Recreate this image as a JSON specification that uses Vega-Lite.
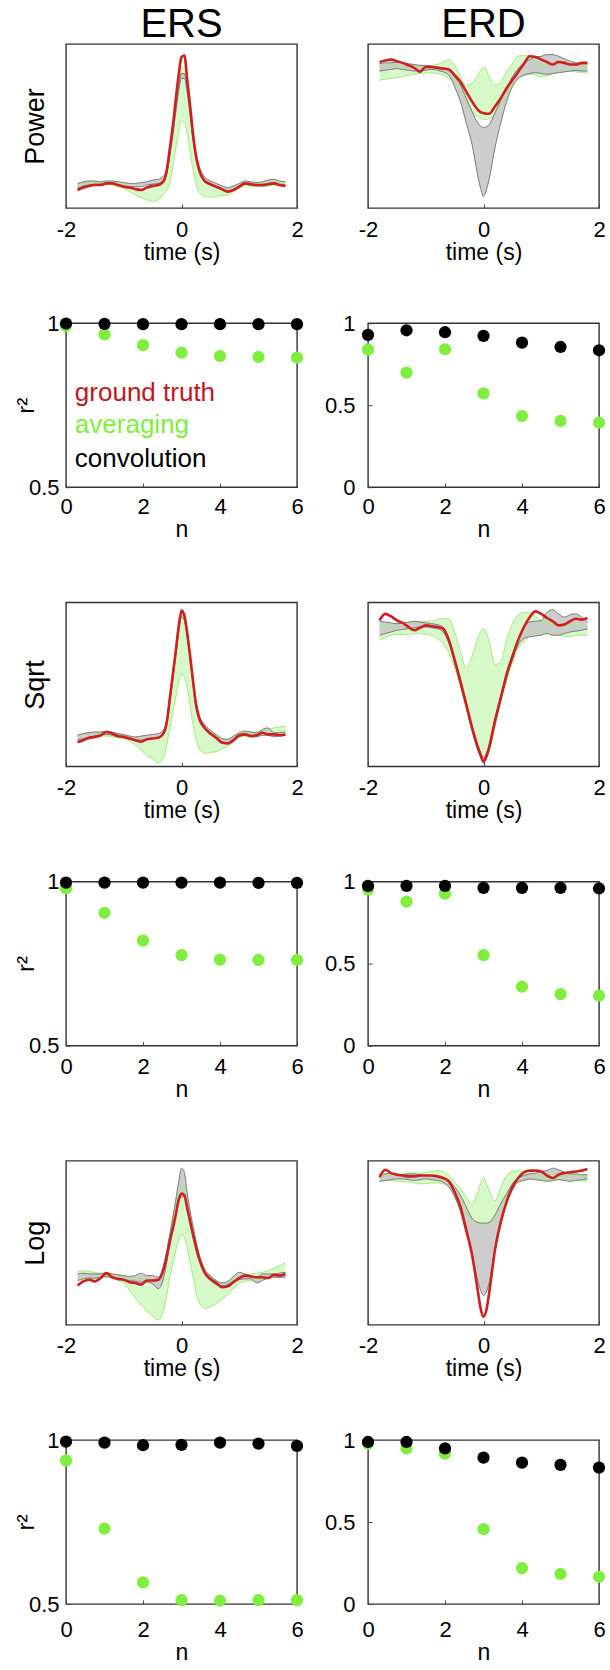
{
"$schema":"https://vega.github.io/schema/vega-lite/v6.json",
"background":"white",
"padding":{"left":13,"top":4,"right":2,"bottom":2},
"config":{
 "font":"Liberation Sans",
 "view":{"stroke":"#333333","strokeWidth":1.4},
 "title":{"font":"Liberation Sans","fontSize":40,"fontWeight":"normal","color":"#000000"},
 "axis":{"domain":false,"grid":false,"ticks":true,"tickSize":-4,"tickColor":"#444444","labelFont":"Liberation Sans","labelFontSize":22,"labelColor":"#000000","titleFont":"Liberation Sans","titleFontSize":23,"titleFontWeight":"normal","titleColor":"#000000","labelFlush":false,"labelOverlap":false},
 "line":{"interpolate":"monotone"},
 "area":{"interpolate":"monotone"}
},
"datasets":{
"ts":[
{"p":"PS","t":-1.8,"r":0.11,"cl":0.12,"ch":0.15,"al":0.12,"ah":0.14},
{"p":"PS","t":-1.7,"r":0.125,"cl":0.135,"ch":0.16,"al":0.13,"ah":0.15},
{"p":"PS","t":-1.6,"r":0.135,"cl":0.14,"ch":0.165,"al":0.135,"ah":0.155},
{"p":"PS","t":-1.5,"r":0.14,"cl":0.145,"ch":0.165,"al":0.14,"ah":0.155},
{"p":"PS","t":-1.4,"r":0.14,"cl":0.145,"ch":0.16,"al":0.14,"ah":0.155},
{"p":"PS","t":-1.3,"r":0.15,"cl":0.15,"ch":0.165,"al":0.145,"ah":0.16},
{"p":"PS","t":-1.2,"r":0.15,"cl":0.15,"ch":0.165,"al":0.14,"ah":0.16},
{"p":"PS","t":-1.1,"r":0.14,"cl":0.14,"ch":0.16,"al":0.13,"ah":0.15},
{"p":"PS","t":-1.0,"r":0.13,"cl":0.135,"ch":0.155,"al":0.12,"ah":0.14},
{"p":"PS","t":-0.9,"r":0.125,"cl":0.13,"ch":0.15,"al":0.1,"ah":0.13},
{"p":"PS","t":-0.8,"r":0.115,"cl":0.13,"ch":0.15,"al":0.08,"ah":0.12},
{"p":"PS","t":-0.7,"r":0.11,"cl":0.13,"ch":0.155,"al":0.065,"ah":0.115},
{"p":"PS","t":-0.6,"r":0.125,"cl":0.14,"ch":0.16,"al":0.05,"ah":0.12},
{"p":"PS","t":-0.5,"r":0.135,"cl":0.145,"ch":0.17,"al":0.04,"ah":0.125},
{"p":"PS","t":-0.4,"r":0.14,"cl":0.15,"ch":0.175,"al":0.05,"ah":0.135},
{"p":"PS","t":-0.3,"r":0.17,"cl":0.17,"ch":0.2,"al":0.09,"ah":0.16},
{"p":"PS","t":-0.25,"r":0.24,"cl":0.22,"ch":0.25,"al":0.11,"ah":0.22},
{"p":"PS","t":-0.2,"r":0.37,"cl":0.32,"ch":0.35,"al":0.16,"ah":0.33},
{"p":"PS","t":-0.15,"r":0.5,"cl":0.44,"ch":0.47,"al":0.25,"ah":0.46},
{"p":"PS","t":-0.1,"r":0.66,"cl":0.58,"ch":0.61,"al":0.36,"ah":0.6},
{"p":"PS","t":-0.05,"r":0.81,"cl":0.71,"ch":0.74,"al":0.46,"ah":0.75},
{"p":"PS","t":0,"r":0.92,"cl":0.79,"ch":0.82,"al":0.53,"ah":0.85},
{"p":"PS","t":0.05,"r":0.93,"cl":0.79,"ch":0.82,"al":0.52,"ah":0.86},
{"p":"PS","t":0.1,"r":0.78,"cl":0.7,"ch":0.73,"al":0.45,"ah":0.75},
{"p":"PS","t":0.15,"r":0.62,"cl":0.56,"ch":0.59,"al":0.34,"ah":0.58},
{"p":"PS","t":0.2,"r":0.45,"cl":0.41,"ch":0.44,"al":0.23,"ah":0.42},
{"p":"PS","t":0.25,"r":0.32,"cl":0.3,"ch":0.33,"al":0.15,"ah":0.3},
{"p":"PS","t":0.3,"r":0.24,"cl":0.23,"ch":0.26,"al":0.1,"ah":0.22},
{"p":"PS","t":0.4,"r":0.165,"cl":0.165,"ch":0.19,"al":0.07,"ah":0.16},
{"p":"PS","t":0.5,"r":0.145,"cl":0.14,"ch":0.165,"al":0.065,"ah":0.14},
{"p":"PS","t":0.6,"r":0.13,"cl":0.125,"ch":0.15,"al":0.07,"ah":0.125},
{"p":"PS","t":0.7,"r":0.115,"cl":0.11,"ch":0.135,"al":0.075,"ah":0.11},
{"p":"PS","t":0.8,"r":0.1,"cl":0.1,"ch":0.125,"al":0.08,"ah":0.1},
{"p":"PS","t":0.9,"r":0.11,"cl":0.115,"ch":0.135,"al":0.1,"ah":0.115},
{"p":"PS","t":1.0,"r":0.13,"cl":0.13,"ch":0.15,"al":0.12,"ah":0.135},
{"p":"PS","t":1.1,"r":0.15,"cl":0.145,"ch":0.165,"al":0.135,"ah":0.15},
{"p":"PS","t":1.2,"r":0.145,"cl":0.14,"ch":0.16,"al":0.135,"ah":0.15},
{"p":"PS","t":1.3,"r":0.14,"cl":0.135,"ch":0.155,"al":0.13,"ah":0.145},
{"p":"PS","t":1.4,"r":0.14,"cl":0.135,"ch":0.16,"al":0.13,"ah":0.15},
{"p":"PS","t":1.5,"r":0.145,"cl":0.145,"ch":0.17,"al":0.135,"ah":0.155},
{"p":"PS","t":1.6,"r":0.15,"cl":0.15,"ch":0.175,"al":0.14,"ah":0.16},
{"p":"PS","t":1.7,"r":0.14,"cl":0.14,"ch":0.165,"al":0.135,"ah":0.155},
{"p":"PS","t":1.8,"r":0.135,"cl":0.14,"ch":0.16,"al":0.13,"ah":0.15},

{"p":"PD","t":-1.8,"r":0.89,"cl":0.835,"ch":0.88,"al":0.78,"ah":0.87},
{"p":"PD","t":-1.7,"r":0.9,"cl":0.84,"ch":0.885,"al":0.785,"ah":0.865},
{"p":"PD","t":-1.6,"r":0.905,"cl":0.845,"ch":0.885,"al":0.79,"ah":0.87},
{"p":"PD","t":-1.5,"r":0.895,"cl":0.85,"ch":0.89,"al":0.795,"ah":0.875},
{"p":"PD","t":-1.4,"r":0.885,"cl":0.845,"ch":0.885,"al":0.8,"ah":0.87},
{"p":"PD","t":-1.3,"r":0.87,"cl":0.84,"ch":0.88,"al":0.81,"ah":0.865},
{"p":"PD","t":-1.2,"r":0.855,"cl":0.835,"ch":0.875,"al":0.815,"ah":0.86},
{"p":"PD","t":-1.1,"r":0.83,"cl":0.84,"ch":0.87,"al":0.82,"ah":0.86},
{"p":"PD","t":-1.0,"r":0.86,"cl":0.84,"ch":0.87,"al":0.823,"ah":0.865},
{"p":"PD","t":-0.9,"r":0.86,"cl":0.845,"ch":0.865,"al":0.823,"ah":0.87},
{"p":"PD","t":-0.8,"r":0.855,"cl":0.84,"ch":0.86,"al":0.82,"ah":0.875},
{"p":"PD","t":-0.7,"r":0.85,"cl":0.83,"ch":0.855,"al":0.81,"ah":0.89},
{"p":"PD","t":-0.6,"r":0.845,"cl":0.81,"ch":0.84,"al":0.79,"ah":0.905},
{"p":"PD","t":-0.5,"r":0.81,"cl":0.74,"ch":0.8,"al":0.76,"ah":0.87},
{"p":"PD","t":-0.4,"r":0.77,"cl":0.65,"ch":0.75,"al":0.71,"ah":0.8},
{"p":"PD","t":-0.3,"r":0.71,"cl":0.52,"ch":0.67,"al":0.65,"ah":0.75},
{"p":"PD","t":-0.2,"r":0.65,"cl":0.39,"ch":0.59,"al":0.59,"ah":0.76},
{"p":"PD","t":-0.1,"r":0.6,"cl":0.2,"ch":0.52,"al":0.555,"ah":0.81},
{"p":"PD","t":-0.05,"r":0.585,"cl":0.12,"ch":0.5,"al":0.545,"ah":0.84},
{"p":"PD","t":0,"r":0.58,"cl":0.07,"ch":0.49,"al":0.54,"ah":0.86},
{"p":"PD","t":0.05,"r":0.575,"cl":0.11,"ch":0.495,"al":0.54,"ah":0.84},
{"p":"PD","t":0.1,"r":0.575,"cl":0.18,"ch":0.51,"al":0.545,"ah":0.8},
{"p":"PD","t":0.2,"r":0.62,"cl":0.37,"ch":0.58,"al":0.57,"ah":0.75},
{"p":"PD","t":0.3,"r":0.67,"cl":0.52,"ch":0.66,"al":0.63,"ah":0.77},
{"p":"PD","t":0.4,"r":0.73,"cl":0.65,"ch":0.73,"al":0.69,"ah":0.83},
{"p":"PD","t":0.5,"r":0.78,"cl":0.74,"ch":0.8,"al":0.75,"ah":0.88},
{"p":"PD","t":0.6,"r":0.83,"cl":0.79,"ch":0.85,"al":0.79,"ah":0.925},
{"p":"PD","t":0.7,"r":0.88,"cl":0.81,"ch":0.885,"al":0.81,"ah":0.93},
{"p":"PD","t":0.8,"r":0.925,"cl":0.82,"ch":0.905,"al":0.815,"ah":0.925},
{"p":"PD","t":0.9,"r":0.92,"cl":0.825,"ch":0.92,"al":0.81,"ah":0.9},
{"p":"PD","t":1.0,"r":0.905,"cl":0.82,"ch":0.925,"al":0.8,"ah":0.875},
{"p":"PD","t":1.1,"r":0.89,"cl":0.815,"ch":0.935,"al":0.805,"ah":0.87},
{"p":"PD","t":1.2,"r":0.875,"cl":0.82,"ch":0.935,"al":0.82,"ah":0.875},
{"p":"PD","t":1.3,"r":0.89,"cl":0.825,"ch":0.925,"al":0.83,"ah":0.88},
{"p":"PD","t":1.4,"r":0.885,"cl":0.83,"ch":0.91,"al":0.84,"ah":0.885},
{"p":"PD","t":1.5,"r":0.875,"cl":0.835,"ch":0.895,"al":0.835,"ah":0.88},
{"p":"PD","t":1.6,"r":0.875,"cl":0.84,"ch":0.885,"al":0.83,"ah":0.875},
{"p":"PD","t":1.7,"r":0.885,"cl":0.835,"ch":0.88,"al":0.825,"ah":0.87},
{"p":"PD","t":1.8,"r":0.885,"cl":0.835,"ch":0.88,"al":0.82,"ah":0.865},

{"p":"SS","t":-1.8,"r":0.147,"cl":0.16,"ch":0.19,"al":0.16,"ah":0.19},
{"p":"SS","t":-1.7,"r":0.16,"cl":0.17,"ch":0.2,"al":0.17,"ah":0.2},
{"p":"SS","t":-1.6,"r":0.173,"cl":0.18,"ch":0.205,"al":0.175,"ah":0.205},
{"p":"SS","t":-1.5,"r":0.18,"cl":0.185,"ch":0.21,"al":0.18,"ah":0.205},
{"p":"SS","t":-1.4,"r":0.19,"cl":0.19,"ch":0.21,"al":0.185,"ah":0.205},
{"p":"SS","t":-1.3,"r":0.21,"cl":0.195,"ch":0.215,"al":0.185,"ah":0.21},
{"p":"SS","t":-1.2,"r":0.2,"cl":0.19,"ch":0.21,"al":0.18,"ah":0.205},
{"p":"SS","t":-1.1,"r":0.185,"cl":0.18,"ch":0.2,"al":0.175,"ah":0.195},
{"p":"SS","t":-1.0,"r":0.18,"cl":0.175,"ch":0.195,"al":0.17,"ah":0.19},
{"p":"SS","t":-0.9,"r":0.17,"cl":0.165,"ch":0.185,"al":0.155,"ah":0.18},
{"p":"SS","t":-0.8,"r":0.16,"cl":0.16,"ch":0.18,"al":0.13,"ah":0.17},
{"p":"SS","t":-0.7,"r":0.15,"cl":0.16,"ch":0.185,"al":0.1,"ah":0.165},
{"p":"SS","t":-0.6,"r":0.165,"cl":0.165,"ch":0.19,"al":0.07,"ah":0.17},
{"p":"SS","t":-0.5,"r":0.17,"cl":0.17,"ch":0.195,"al":0.045,"ah":0.175},
{"p":"SS","t":-0.4,"r":0.175,"cl":0.175,"ch":0.2,"al":0.02,"ah":0.18},
{"p":"SS","t":-0.3,"r":0.21,"cl":0.205,"ch":0.23,"al":0.06,"ah":0.21},
{"p":"SS","t":-0.25,"r":0.28,"cl":0.27,"ch":0.3,"al":0.14,"ah":0.27},
{"p":"SS","t":-0.2,"r":0.42,"cl":0.4,"ch":0.43,"al":0.235,"ah":0.4},
{"p":"SS","t":-0.15,"r":0.56,"cl":0.54,"ch":0.57,"al":0.33,"ah":0.53},
{"p":"SS","t":-0.1,"r":0.7,"cl":0.68,"ch":0.71,"al":0.42,"ah":0.67},
{"p":"SS","t":-0.05,"r":0.85,"cl":0.82,"ch":0.85,"al":0.51,"ah":0.81},
{"p":"SS","t":0,"r":0.95,"cl":0.91,"ch":0.94,"al":0.56,"ah":0.915},
{"p":"SS","t":0.05,"r":0.92,"cl":0.89,"ch":0.92,"al":0.54,"ah":0.89},
{"p":"SS","t":0.1,"r":0.81,"cl":0.79,"ch":0.82,"al":0.48,"ah":0.79},
{"p":"SS","t":0.15,"r":0.67,"cl":0.65,"ch":0.68,"al":0.37,"ah":0.65},
{"p":"SS","t":0.2,"r":0.52,"cl":0.5,"ch":0.53,"al":0.255,"ah":0.5},
{"p":"SS","t":0.25,"r":0.38,"cl":0.37,"ch":0.4,"al":0.17,"ah":0.37},
{"p":"SS","t":0.3,"r":0.3,"cl":0.29,"ch":0.32,"al":0.11,"ah":0.29},
{"p":"SS","t":0.4,"r":0.235,"cl":0.23,"ch":0.255,"al":0.08,"ah":0.235},
{"p":"SS","t":0.5,"r":0.2,"cl":0.195,"ch":0.22,"al":0.085,"ah":0.205},
{"p":"SS","t":0.6,"r":0.175,"cl":0.17,"ch":0.195,"al":0.09,"ah":0.185},
{"p":"SS","t":0.7,"r":0.145,"cl":0.145,"ch":0.17,"al":0.105,"ah":0.17},
{"p":"SS","t":0.8,"r":0.14,"cl":0.145,"ch":0.165,"al":0.12,"ah":0.165},
{"p":"SS","t":0.9,"r":0.16,"cl":0.16,"ch":0.185,"al":0.15,"ah":0.18},
{"p":"SS","t":1.0,"r":0.19,"cl":0.18,"ch":0.205,"al":0.18,"ah":0.2},
{"p":"SS","t":1.1,"r":0.195,"cl":0.19,"ch":0.215,"al":0.185,"ah":0.205},
{"p":"SS","t":1.2,"r":0.185,"cl":0.18,"ch":0.21,"al":0.185,"ah":0.205},
{"p":"SS","t":1.3,"r":0.19,"cl":0.18,"ch":0.205,"al":0.19,"ah":0.21},
{"p":"SS","t":1.4,"r":0.205,"cl":0.19,"ch":0.225,"al":0.19,"ah":0.215},
{"p":"SS","t":1.5,"r":0.195,"cl":0.19,"ch":0.235,"al":0.2,"ah":0.225},
{"p":"SS","t":1.6,"r":0.195,"cl":0.18,"ch":0.205,"al":0.205,"ah":0.235},
{"p":"SS","t":1.7,"r":0.19,"cl":0.185,"ch":0.205,"al":0.21,"ah":0.24},
{"p":"SS","t":1.8,"r":0.195,"cl":0.19,"ch":0.21,"al":0.22,"ah":0.245},

{"p":"SD","t":-1.8,"r":0.89,"cl":0.8,"ch":0.885,"al":0.77,"ah":0.86},
{"p":"SD","t":-1.7,"r":0.93,"cl":0.81,"ch":0.88,"al":0.785,"ah":0.865},
{"p":"SD","t":-1.6,"r":0.915,"cl":0.82,"ch":0.875,"al":0.8,"ah":0.865},
{"p":"SD","t":-1.5,"r":0.89,"cl":0.83,"ch":0.87,"al":0.805,"ah":0.87},
{"p":"SD","t":-1.4,"r":0.875,"cl":0.835,"ch":0.875,"al":0.805,"ah":0.875},
{"p":"SD","t":-1.3,"r":0.85,"cl":0.84,"ch":0.88,"al":0.805,"ah":0.875},
{"p":"SD","t":-1.2,"r":0.83,"cl":0.845,"ch":0.885,"al":0.81,"ah":0.88},
{"p":"SD","t":-1.1,"r":0.845,"cl":0.85,"ch":0.88,"al":0.81,"ah":0.88},
{"p":"SD","t":-1.0,"r":0.86,"cl":0.85,"ch":0.875,"al":0.805,"ah":0.885},
{"p":"SD","t":-0.9,"r":0.855,"cl":0.845,"ch":0.87,"al":0.8,"ah":0.885},
{"p":"SD","t":-0.8,"r":0.85,"cl":0.84,"ch":0.865,"al":0.78,"ah":0.895},
{"p":"SD","t":-0.7,"r":0.84,"cl":0.82,"ch":0.85,"al":0.75,"ah":0.9},
{"p":"SD","t":-0.6,"r":0.77,"cl":0.75,"ch":0.78,"al":0.69,"ah":0.9},
{"p":"SD","t":-0.5,"r":0.65,"cl":0.63,"ch":0.66,"al":0.6,"ah":0.82},
{"p":"SD","t":-0.4,"r":0.52,"cl":0.5,"ch":0.53,"al":0.48,"ah":0.7},
{"p":"SD","t":-0.3,"r":0.38,"cl":0.36,"ch":0.39,"al":0.36,"ah":0.6},
{"p":"SD","t":-0.2,"r":0.24,"cl":0.22,"ch":0.25,"al":0.22,"ah":0.67},
{"p":"SD","t":-0.1,"r":0.12,"cl":0.1,"ch":0.13,"al":0.1,"ah":0.78},
{"p":"SD","t":-0.05,"r":0.07,"cl":0.055,"ch":0.085,"al":0.06,"ah":0.82},
{"p":"SD","t":0,"r":0.03,"cl":0.02,"ch":0.05,"al":0.025,"ah":0.84},
{"p":"SD","t":0.05,"r":0.06,"cl":0.05,"ch":0.08,"al":0.055,"ah":0.815},
{"p":"SD","t":0.1,"r":0.12,"cl":0.1,"ch":0.13,"al":0.1,"ah":0.76},
{"p":"SD","t":0.2,"r":0.28,"cl":0.26,"ch":0.29,"al":0.24,"ah":0.62},
{"p":"SD","t":0.3,"r":0.42,"cl":0.4,"ch":0.43,"al":0.4,"ah":0.64},
{"p":"SD","t":0.4,"r":0.56,"cl":0.54,"ch":0.57,"al":0.52,"ah":0.77},
{"p":"SD","t":0.5,"r":0.67,"cl":0.65,"ch":0.68,"al":0.63,"ah":0.87},
{"p":"SD","t":0.6,"r":0.77,"cl":0.74,"ch":0.78,"al":0.72,"ah":0.925},
{"p":"SD","t":0.7,"r":0.85,"cl":0.78,"ch":0.85,"al":0.76,"ah":0.94},
{"p":"SD","t":0.8,"r":0.91,"cl":0.79,"ch":0.88,"al":0.79,"ah":0.935},
{"p":"SD","t":0.9,"r":0.945,"cl":0.795,"ch":0.885,"al":0.8,"ah":0.915},
{"p":"SD","t":1.0,"r":0.93,"cl":0.8,"ch":0.89,"al":0.81,"ah":0.89},
{"p":"SD","t":1.1,"r":0.905,"cl":0.81,"ch":0.94,"al":0.815,"ah":0.875},
{"p":"SD","t":1.2,"r":0.885,"cl":0.8,"ch":0.955,"al":0.82,"ah":0.87},
{"p":"SD","t":1.3,"r":0.86,"cl":0.8,"ch":0.93,"al":0.8,"ah":0.865},
{"p":"SD","t":1.4,"r":0.865,"cl":0.81,"ch":0.91,"al":0.795,"ah":0.86},
{"p":"SD","t":1.5,"r":0.885,"cl":0.82,"ch":0.925,"al":0.79,"ah":0.86},
{"p":"SD","t":1.6,"r":0.9,"cl":0.825,"ch":0.93,"al":0.8,"ah":0.86},
{"p":"SD","t":1.7,"r":0.895,"cl":0.83,"ch":0.91,"al":0.8,"ah":0.855},
{"p":"SD","t":1.8,"r":0.905,"cl":0.84,"ch":0.88,"al":0.8,"ah":0.83},

{"p":"LS","t":-1.8,"r":0.24,"cl":0.27,"ch":0.31,"al":0.28,"ah":0.325},
{"p":"LS","t":-1.7,"r":0.265,"cl":0.28,"ch":0.315,"al":0.285,"ah":0.33},
{"p":"LS","t":-1.6,"r":0.275,"cl":0.285,"ch":0.31,"al":0.285,"ah":0.325},
{"p":"LS","t":-1.5,"r":0.265,"cl":0.285,"ch":0.31,"al":0.28,"ah":0.32},
{"p":"LS","t":-1.4,"r":0.285,"cl":0.29,"ch":0.31,"al":0.285,"ah":0.315},
{"p":"LS","t":-1.3,"r":0.315,"cl":0.295,"ch":0.315,"al":0.29,"ah":0.32},
{"p":"LS","t":-1.2,"r":0.29,"cl":0.285,"ch":0.31,"al":0.285,"ah":0.31},
{"p":"LS","t":-1.1,"r":0.28,"cl":0.28,"ch":0.305,"al":0.27,"ah":0.3},
{"p":"LS","t":-1.0,"r":0.275,"cl":0.275,"ch":0.3,"al":0.255,"ah":0.295},
{"p":"LS","t":-0.9,"r":0.26,"cl":0.27,"ch":0.295,"al":0.21,"ah":0.29},
{"p":"LS","t":-0.8,"r":0.255,"cl":0.265,"ch":0.3,"al":0.165,"ah":0.285},
{"p":"LS","t":-0.7,"r":0.245,"cl":0.26,"ch":0.315,"al":0.12,"ah":0.28},
{"p":"LS","t":-0.6,"r":0.27,"cl":0.26,"ch":0.3,"al":0.085,"ah":0.28},
{"p":"LS","t":-0.5,"r":0.27,"cl":0.25,"ch":0.3,"al":0.05,"ah":0.27},
{"p":"LS","t":-0.4,"r":0.275,"cl":0.22,"ch":0.29,"al":0.03,"ah":0.28},
{"p":"LS","t":-0.3,"r":0.35,"cl":0.3,"ch":0.38,"al":0.1,"ah":0.36},
{"p":"LS","t":-0.2,"r":0.51,"cl":0.5,"ch":0.56,"al":0.29,"ah":0.53},
{"p":"LS","t":-0.1,"r":0.67,"cl":0.68,"ch":0.76,"al":0.45,"ah":0.72},
{"p":"LS","t":-0.05,"r":0.76,"cl":0.75,"ch":0.87,"al":0.51,"ah":0.8},
{"p":"LS","t":0,"r":0.8,"cl":0.78,"ch":0.955,"al":0.55,"ah":0.86},
{"p":"LS","t":0.05,"r":0.79,"cl":0.78,"ch":0.93,"al":0.53,"ah":0.84},
{"p":"LS","t":0.1,"r":0.71,"cl":0.7,"ch":0.8,"al":0.47,"ah":0.74},
{"p":"LS","t":0.2,"r":0.55,"cl":0.54,"ch":0.6,"al":0.29,"ah":0.56},
{"p":"LS","t":0.3,"r":0.41,"cl":0.4,"ch":0.44,"al":0.14,"ah":0.41},
{"p":"LS","t":0.4,"r":0.32,"cl":0.31,"ch":0.34,"al":0.1,"ah":0.33},
{"p":"LS","t":0.5,"r":0.28,"cl":0.27,"ch":0.3,"al":0.11,"ah":0.29},
{"p":"LS","t":0.6,"r":0.255,"cl":0.245,"ch":0.27,"al":0.13,"ah":0.27},
{"p":"LS","t":0.7,"r":0.23,"cl":0.235,"ch":0.255,"al":0.155,"ah":0.255},
{"p":"LS","t":0.8,"r":0.235,"cl":0.245,"ch":0.265,"al":0.185,"ah":0.26},
{"p":"LS","t":0.9,"r":0.26,"cl":0.265,"ch":0.295,"al":0.22,"ah":0.28},
{"p":"LS","t":1.0,"r":0.285,"cl":0.275,"ch":0.32,"al":0.255,"ah":0.3},
{"p":"LS","t":1.1,"r":0.3,"cl":0.28,"ch":0.31,"al":0.265,"ah":0.305},
{"p":"LS","t":1.2,"r":0.295,"cl":0.28,"ch":0.3,"al":0.27,"ah":0.31},
{"p":"LS","t":1.3,"r":0.29,"cl":0.255,"ch":0.29,"al":0.275,"ah":0.315},
{"p":"LS","t":1.4,"r":0.29,"cl":0.27,"ch":0.31,"al":0.28,"ah":0.32},
{"p":"LS","t":1.5,"r":0.285,"cl":0.285,"ch":0.31,"al":0.285,"ah":0.33},
{"p":"LS","t":1.6,"r":0.305,"cl":0.29,"ch":0.31,"al":0.29,"ah":0.345},
{"p":"LS","t":1.7,"r":0.3,"cl":0.29,"ch":0.315,"al":0.295,"ah":0.36},
{"p":"LS","t":1.8,"r":0.31,"cl":0.29,"ch":0.32,"al":0.3,"ah":0.38},

{"p":"LD","t":-1.8,"r":0.9,"cl":0.875,"ch":0.915,"al":0.875,"ah":0.91},
{"p":"LD","t":-1.7,"r":0.945,"cl":0.88,"ch":0.92,"al":0.88,"ah":0.915},
{"p":"LD","t":-1.6,"r":0.925,"cl":0.885,"ch":0.925,"al":0.88,"ah":0.915},
{"p":"LD","t":-1.5,"r":0.915,"cl":0.89,"ch":0.92,"al":0.875,"ah":0.915},
{"p":"LD","t":-1.4,"r":0.91,"cl":0.89,"ch":0.915,"al":0.875,"ah":0.92},
{"p":"LD","t":-1.3,"r":0.905,"cl":0.885,"ch":0.92,"al":0.87,"ah":0.925},
{"p":"LD","t":-1.2,"r":0.905,"cl":0.88,"ch":0.92,"al":0.865,"ah":0.925},
{"p":"LD","t":-1.1,"r":0.91,"cl":0.885,"ch":0.915,"al":0.86,"ah":0.925},
{"p":"LD","t":-1.0,"r":0.91,"cl":0.89,"ch":0.91,"al":0.86,"ah":0.93},
{"p":"LD","t":-0.9,"r":0.91,"cl":0.885,"ch":0.91,"al":0.865,"ah":0.935},
{"p":"LD","t":-0.8,"r":0.905,"cl":0.88,"ch":0.905,"al":0.865,"ah":0.94},
{"p":"LD","t":-0.7,"r":0.895,"cl":0.87,"ch":0.895,"al":0.86,"ah":0.935},
{"p":"LD","t":-0.6,"r":0.875,"cl":0.84,"ch":0.88,"al":0.84,"ah":0.91},
{"p":"LD","t":-0.5,"r":0.81,"cl":0.78,"ch":0.84,"al":0.8,"ah":0.87},
{"p":"LD","t":-0.4,"r":0.72,"cl":0.69,"ch":0.79,"al":0.75,"ah":0.83},
{"p":"LD","t":-0.3,"r":0.58,"cl":0.56,"ch":0.72,"al":0.69,"ah":0.78},
{"p":"LD","t":-0.2,"r":0.43,"cl":0.43,"ch":0.65,"al":0.64,"ah":0.735},
{"p":"LD","t":-0.1,"r":0.21,"cl":0.27,"ch":0.625,"al":0.62,"ah":0.81},
{"p":"LD","t":-0.05,"r":0.1,"cl":0.21,"ch":0.62,"al":0.615,"ah":0.86},
{"p":"LD","t":0,"r":0.05,"cl":0.18,"ch":0.62,"al":0.61,"ah":0.9},
{"p":"LD","t":0.05,"r":0.09,"cl":0.2,"ch":0.62,"al":0.615,"ah":0.86},
{"p":"LD","t":0.1,"r":0.2,"cl":0.26,"ch":0.625,"al":0.62,"ah":0.82},
{"p":"LD","t":0.2,"r":0.46,"cl":0.46,"ch":0.67,"al":0.64,"ah":0.755},
{"p":"LD","t":0.3,"r":0.63,"cl":0.61,"ch":0.74,"al":0.7,"ah":0.84},
{"p":"LD","t":0.4,"r":0.75,"cl":0.74,"ch":0.8,"al":0.78,"ah":0.91},
{"p":"LD","t":0.5,"r":0.84,"cl":0.82,"ch":0.86,"al":0.84,"ah":0.935},
{"p":"LD","t":0.6,"r":0.895,"cl":0.87,"ch":0.895,"al":0.87,"ah":0.94},
{"p":"LD","t":0.7,"r":0.93,"cl":0.88,"ch":0.91,"al":0.88,"ah":0.935},
{"p":"LD","t":0.8,"r":0.94,"cl":0.89,"ch":0.92,"al":0.885,"ah":0.925},
{"p":"LD","t":0.9,"r":0.94,"cl":0.885,"ch":0.925,"al":0.89,"ah":0.92},
{"p":"LD","t":1.0,"r":0.935,"cl":0.88,"ch":0.935,"al":0.89,"ah":0.915},
{"p":"LD","t":1.1,"r":0.91,"cl":0.875,"ch":0.94,"al":0.89,"ah":0.915},
{"p":"LD","t":1.2,"r":0.895,"cl":0.88,"ch":0.955,"al":0.885,"ah":0.92},
{"p":"LD","t":1.3,"r":0.915,"cl":0.885,"ch":0.945,"al":0.885,"ah":0.915},
{"p":"LD","t":1.4,"r":0.925,"cl":0.88,"ch":0.93,"al":0.885,"ah":0.915},
{"p":"LD","t":1.5,"r":0.93,"cl":0.875,"ch":0.92,"al":0.88,"ah":0.91},
{"p":"LD","t":1.6,"r":0.935,"cl":0.88,"ch":0.92,"al":0.88,"ah":0.91},
{"p":"LD","t":1.7,"r":0.94,"cl":0.885,"ch":0.915,"al":0.875,"ah":0.905},
{"p":"LD","t":1.8,"r":0.95,"cl":0.89,"ch":0.915,"al":0.875,"ah":0.9}
],
"r2":[
{"k":"P","s":"ERS","n":0,"m":"averaging","v":0.992},{"k":"P","s":"ERS","n":1,"m":"averaging","v":0.966},{"k":"P","s":"ERS","n":2,"m":"averaging","v":0.933},{"k":"P","s":"ERS","n":3,"m":"averaging","v":0.91},{"k":"P","s":"ERS","n":4,"m":"averaging","v":0.9},{"k":"P","s":"ERS","n":5,"m":"averaging","v":0.897},{"k":"P","s":"ERS","n":6,"m":"averaging","v":0.895},
{"k":"P","s":"ERS","n":0,"m":"convolution","v":0.999},{"k":"P","s":"ERS","n":1,"m":"convolution","v":0.998},{"k":"P","s":"ERS","n":2,"m":"convolution","v":0.997},{"k":"P","s":"ERS","n":3,"m":"convolution","v":0.997},{"k":"P","s":"ERS","n":4,"m":"convolution","v":0.997},{"k":"P","s":"ERS","n":5,"m":"convolution","v":0.997},{"k":"P","s":"ERS","n":6,"m":"convolution","v":0.997},
{"k":"P","s":"ERD","n":0,"m":"averaging","v":0.839},{"k":"P","s":"ERD","n":1,"m":"averaging","v":0.699},{"k":"P","s":"ERD","n":2,"m":"averaging","v":0.841},{"k":"P","s":"ERD","n":3,"m":"averaging","v":0.572},{"k":"P","s":"ERD","n":4,"m":"averaging","v":0.434},{"k":"P","s":"ERD","n":5,"m":"averaging","v":0.404},{"k":"P","s":"ERD","n":6,"m":"averaging","v":0.393},
{"k":"P","s":"ERD","n":0,"m":"convolution","v":0.929},{"k":"P","s":"ERD","n":1,"m":"convolution","v":0.957},{"k":"P","s":"ERD","n":2,"m":"convolution","v":0.945},{"k":"P","s":"ERD","n":3,"m":"convolution","v":0.923},{"k":"P","s":"ERD","n":4,"m":"convolution","v":0.882},{"k":"P","s":"ERD","n":5,"m":"convolution","v":0.855},{"k":"P","s":"ERD","n":6,"m":"convolution","v":0.835},
{"k":"S","s":"ERS","n":0,"m":"averaging","v":0.98},{"k":"S","s":"ERS","n":1,"m":"averaging","v":0.905},{"k":"S","s":"ERS","n":2,"m":"averaging","v":0.82},{"k":"S","s":"ERS","n":3,"m":"averaging","v":0.776},{"k":"S","s":"ERS","n":4,"m":"averaging","v":0.762},{"k":"S","s":"ERS","n":5,"m":"averaging","v":0.761},{"k":"S","s":"ERS","n":6,"m":"averaging","v":0.761},
{"k":"S","s":"ERS","n":0,"m":"convolution","v":0.997},{"k":"S","s":"ERS","n":1,"m":"convolution","v":0.997},{"k":"S","s":"ERS","n":2,"m":"convolution","v":0.997},{"k":"S","s":"ERS","n":3,"m":"convolution","v":0.997},{"k":"S","s":"ERS","n":4,"m":"convolution","v":0.997},{"k":"S","s":"ERS","n":5,"m":"convolution","v":0.996},{"k":"S","s":"ERS","n":6,"m":"convolution","v":0.996},
{"k":"S","s":"ERD","n":0,"m":"averaging","v":0.953},{"k":"S","s":"ERD","n":1,"m":"averaging","v":0.878},{"k":"S","s":"ERD","n":2,"m":"averaging","v":0.927},{"k":"S","s":"ERD","n":3,"m":"averaging","v":0.552},{"k":"S","s":"ERD","n":4,"m":"averaging","v":0.359},{"k":"S","s":"ERD","n":5,"m":"averaging","v":0.314},{"k":"S","s":"ERD","n":6,"m":"averaging","v":0.304},
{"k":"S","s":"ERD","n":0,"m":"convolution","v":0.974},{"k":"S","s":"ERD","n":1,"m":"convolution","v":0.974},{"k":"S","s":"ERD","n":2,"m":"convolution","v":0.974},{"k":"S","s":"ERD","n":3,"m":"convolution","v":0.962},{"k":"S","s":"ERD","n":4,"m":"convolution","v":0.962},{"k":"S","s":"ERD","n":5,"m":"convolution","v":0.962},{"k":"S","s":"ERD","n":6,"m":"convolution","v":0.958},
{"k":"L","s":"ERS","n":0,"m":"averaging","v":0.938},{"k":"L","s":"ERS","n":1,"m":"averaging","v":0.73},{"k":"L","s":"ERS","n":2,"m":"averaging","v":0.566},{"k":"L","s":"ERS","n":3,"m":"averaging","v":0.512},{"k":"L","s":"ERS","n":4,"m":"averaging","v":0.51},{"k":"L","s":"ERS","n":5,"m":"averaging","v":0.512},{"k":"L","s":"ERS","n":6,"m":"averaging","v":0.512},
{"k":"L","s":"ERS","n":0,"m":"convolution","v":0.995},{"k":"L","s":"ERS","n":1,"m":"convolution","v":0.992},{"k":"L","s":"ERS","n":2,"m":"convolution","v":0.984},{"k":"L","s":"ERS","n":3,"m":"convolution","v":0.985},{"k":"L","s":"ERS","n":4,"m":"convolution","v":0.992},{"k":"L","s":"ERS","n":5,"m":"convolution","v":0.989},{"k":"L","s":"ERS","n":6,"m":"convolution","v":0.982},
{"k":"L","s":"ERD","n":0,"m":"averaging","v":0.978},{"k":"L","s":"ERD","n":1,"m":"averaging","v":0.949},{"k":"L","s":"ERD","n":2,"m":"averaging","v":0.917},{"k":"L","s":"ERD","n":3,"m":"averaging","v":0.456},{"k":"L","s":"ERD","n":4,"m":"averaging","v":0.219},{"k":"L","s":"ERD","n":5,"m":"averaging","v":0.183},{"k":"L","s":"ERD","n":6,"m":"averaging","v":0.166},
{"k":"L","s":"ERD","n":0,"m":"convolution","v":0.988},{"k":"L","s":"ERD","n":1,"m":"convolution","v":0.988},{"k":"L","s":"ERD","n":2,"m":"convolution","v":0.949},{"k":"L","s":"ERD","n":3,"m":"convolution","v":0.893},{"k":"L","s":"ERD","n":4,"m":"convolution","v":0.862},{"k":"L","s":"ERD","n":5,"m":"convolution","v":0.848},{"k":"L","s":"ERD","n":6,"m":"convolution","v":0.832}
]
},
"columns":2,
"spacing":{"row":115.2,"column":71},
"bounds":"flush",
"concat":[
{"width":231,"height":164,
 "title":{"text":"ERS","fontSize":40,"baseline":"top","offset":-1,"anchor":"middle"},
 "data":{"name":"ts"},"transform":[{"filter":"datum.p=='PS'"}],
 "encoding":{"x":{"field":"t","type":"quantitative","scale":{"domain":[-2,2],"nice":false},"axis":{"values":[-2,0,2],"title":"time (s)","labelExpr":"datum.value + ''","labelPadding":15,"titlePadding":1}}},
 "layer":[
  {"mark":{"type":"area","color":"#d7f9c9"},"encoding":{"y":{"field":"al","type":"quantitative","scale":{"domain":[0,1],"nice":false},"axis":{"labels":false,"ticks":false,"title":"Power","titleFontSize":27,"titlePadding":17}},"y2":{"field":"ah"}}},
  {"mark":{"type":"area","color":"#c8c8c8","opacity":0.9},"encoding":{"y":{"field":"cl","type":"quantitative"},"y2":{"field":"ch"}}},
  {"mark":{"type":"line","color":"#a3ec7f","strokeWidth":1},"encoding":{"y":{"field":"al","type":"quantitative"}}},
  {"mark":{"type":"line","color":"#a3ec7f","strokeWidth":1},"encoding":{"y":{"field":"ah","type":"quantitative"}}},
  {"mark":{"type":"line","color":"#7a7a7a","strokeWidth":1},"encoding":{"y":{"field":"cl","type":"quantitative"}}},
  {"mark":{"type":"line","color":"#7a7a7a","strokeWidth":1},"encoding":{"y":{"field":"ch","type":"quantitative"}}},
  {"mark":{"type":"line","color":"#cf1f1f","strokeWidth":2.6},"encoding":{"y":{"field":"r","type":"quantitative"}}}
 ]},
{"width":231,"height":164,
 "title":{"text":"ERD","fontSize":40,"baseline":"top","offset":-1,"anchor":"middle"},
 "data":{"name":"ts"},"transform":[{"filter":"datum.p=='PD'"}],
 "encoding":{"x":{"field":"t","type":"quantitative","scale":{"domain":[-2,2],"nice":false},"axis":{"values":[-2,0,2],"title":"time (s)","labelExpr":"datum.value + ''","labelPadding":15,"titlePadding":1}}},
 "layer":[
  {"mark":{"type":"area","color":"#d7f9c9"},"encoding":{"y":{"field":"al","type":"quantitative","scale":{"domain":[0,1],"nice":false},"axis":null},"y2":{"field":"ah"}}},
  {"mark":{"type":"area","color":"#c8c8c8","opacity":0.9},"encoding":{"y":{"field":"cl","type":"quantitative","axis":null},"y2":{"field":"ch"}}},
  {"mark":{"type":"line","color":"#a3ec7f","strokeWidth":1},"encoding":{"y":{"field":"al","type":"quantitative","axis":null}}},
  {"mark":{"type":"line","color":"#a3ec7f","strokeWidth":1},"encoding":{"y":{"field":"ah","type":"quantitative","axis":null}}},
  {"mark":{"type":"line","color":"#7a7a7a","strokeWidth":1},"encoding":{"y":{"field":"cl","type":"quantitative","axis":null}}},
  {"mark":{"type":"line","color":"#7a7a7a","strokeWidth":1},"encoding":{"y":{"field":"ch","type":"quantitative","axis":null}}},
  {"mark":{"type":"line","color":"#cf1f1f","strokeWidth":2.6},"encoding":{"y":{"field":"r","type":"quantitative","axis":null}}}
 ]},
{"width":231,"height":164,
 "layer":[
  {"data":{"name":"r2"},"transform":[{"filter":"datum.k=='P' && datum.s=='ERS'"}],
   "mark":{"type":"point","filled":true,"size":150,"opacity":1},
   "encoding":{
    "x":{"field":"n","type":"quantitative","scale":{"domain":[0,6],"nice":false},"axis":{"values":[0,2,4,6],"title":"n","labelPadding":13,"titlePadding":1}},
    "y":{"field":"v","type":"quantitative","scale":{"domain":[0.5,1],"nice":false,"zero":false},"axis":{"values":[0.5,1],"format":"~g","title":"r²","titleFontSize":24,"labelPadding":11,"titlePadding":-10}},
    "color":{"field":"m","type":"nominal","scale":{"domain":["ground truth","averaging","convolution"],"range":["#c0181e","#7fee3f","#000000"]},"legend":null}}},
  {"data":{"values":[{"n":0.23,"v":0.764,"m":"ground truth"},{"n":0.23,"v":0.664,"m":"averaging"},{"n":0.23,"v":0.561,"m":"convolution"}]},
   "mark":{"type":"text","align":"left","baseline":"alphabetic","fontSize":26,"font":"Liberation Sans"},
   "encoding":{"x":{"field":"n","type":"quantitative"},"y":{"field":"v","type":"quantitative"},"text":{"field":"m"},
    "color":{"field":"m","type":"nominal","scale":{"domain":["ground truth","averaging","convolution"],"range":["#c0181e","#7fee3f","#000000"]},"legend":null}}}
 ]},
{"width":231,"height":164,
 "data":{"name":"r2"},"transform":[{"filter":"datum.k=='P' && datum.s=='ERD'"}],
 "mark":{"type":"point","filled":true,"size":150,"opacity":1},
 "encoding":{
  "x":{"field":"n","type":"quantitative","scale":{"domain":[0,6],"nice":false},"axis":{"values":[0,2,4,6],"title":"n","labelPadding":13,"titlePadding":1}},
  "y":{"field":"v","type":"quantitative","scale":{"domain":[0,1],"nice":false},"axis":{"values":[0,0.5,1],"format":"~g","title":null,"labelPadding":17}},
  "color":{"field":"m","type":"nominal","scale":{"domain":["ground truth","averaging","convolution"],"range":["#c0181e","#7fee3f","#000000"]},"legend":null}}},
{"width":231,"height":164,
 "data":{"name":"ts"},"transform":[{"filter":"datum.p=='SS'"}],
 "encoding":{"x":{"field":"t","type":"quantitative","scale":{"domain":[-2,2],"nice":false},"axis":{"values":[-2,0,2],"title":"time (s)","labelExpr":"datum.value + ''","labelPadding":15,"titlePadding":1}}},
 "layer":[
  {"mark":{"type":"area","color":"#d7f9c9"},"encoding":{"y":{"field":"al","type":"quantitative","scale":{"domain":[0,1],"nice":false},"axis":{"labels":false,"ticks":false,"title":"Sqrt","titleFontSize":27,"titlePadding":17}},"y2":{"field":"ah"}}},
  {"mark":{"type":"area","color":"#c8c8c8","opacity":0.9},"encoding":{"y":{"field":"cl","type":"quantitative"},"y2":{"field":"ch"}}},
  {"mark":{"type":"line","color":"#a3ec7f","strokeWidth":1},"encoding":{"y":{"field":"al","type":"quantitative"}}},
  {"mark":{"type":"line","color":"#a3ec7f","strokeWidth":1},"encoding":{"y":{"field":"ah","type":"quantitative"}}},
  {"mark":{"type":"line","color":"#7a7a7a","strokeWidth":1},"encoding":{"y":{"field":"cl","type":"quantitative"}}},
  {"mark":{"type":"line","color":"#7a7a7a","strokeWidth":1},"encoding":{"y":{"field":"ch","type":"quantitative"}}},
  {"mark":{"type":"line","color":"#cf1f1f","strokeWidth":2.6},"encoding":{"y":{"field":"r","type":"quantitative"}}}
 ]},
{"width":231,"height":164,
 "data":{"name":"ts"},"transform":[{"filter":"datum.p=='SD'"}],
 "encoding":{"x":{"field":"t","type":"quantitative","scale":{"domain":[-2,2],"nice":false},"axis":{"values":[-2,0,2],"title":"time (s)","labelExpr":"datum.value + ''","labelPadding":15,"titlePadding":1}}},
 "layer":[
  {"mark":{"type":"area","color":"#d7f9c9"},"encoding":{"y":{"field":"al","type":"quantitative","scale":{"domain":[0,1],"nice":false},"axis":null},"y2":{"field":"ah"}}},
  {"mark":{"type":"area","color":"#c8c8c8","opacity":0.9},"encoding":{"y":{"field":"cl","type":"quantitative","axis":null},"y2":{"field":"ch"}}},
  {"mark":{"type":"line","color":"#a3ec7f","strokeWidth":1},"encoding":{"y":{"field":"al","type":"quantitative","axis":null}}},
  {"mark":{"type":"line","color":"#a3ec7f","strokeWidth":1},"encoding":{"y":{"field":"ah","type":"quantitative","axis":null}}},
  {"mark":{"type":"line","color":"#7a7a7a","strokeWidth":1},"encoding":{"y":{"field":"cl","type":"quantitative","axis":null}}},
  {"mark":{"type":"line","color":"#7a7a7a","strokeWidth":1},"encoding":{"y":{"field":"ch","type":"quantitative","axis":null}}},
  {"mark":{"type":"line","color":"#cf1f1f","strokeWidth":2.6},"encoding":{"y":{"field":"r","type":"quantitative","axis":null}}}
 ]},
{"width":231,"height":164,
 "data":{"name":"r2"},"transform":[{"filter":"datum.k=='S' && datum.s=='ERS'"}],
 "mark":{"type":"point","filled":true,"size":150,"opacity":1},
 "encoding":{
  "x":{"field":"n","type":"quantitative","scale":{"domain":[0,6],"nice":false},"axis":{"values":[0,2,4,6],"title":"n","labelPadding":15,"titlePadding":1}},
  "y":{"field":"v","type":"quantitative","scale":{"domain":[0.5,1],"nice":false,"zero":false},"axis":{"values":[0.5,1],"format":"~g","title":"r²","titleFontSize":24,"labelPadding":11,"titlePadding":-10}},
  "color":{"field":"m","type":"nominal","scale":{"domain":["ground truth","averaging","convolution"],"range":["#c0181e","#7fee3f","#000000"]},"legend":null}}},
{"width":231,"height":164,
 "data":{"name":"r2"},"transform":[{"filter":"datum.k=='S' && datum.s=='ERD'"}],
 "mark":{"type":"point","filled":true,"size":150,"opacity":1},
 "encoding":{
  "x":{"field":"n","type":"quantitative","scale":{"domain":[0,6],"nice":false},"axis":{"values":[0,2,4,6],"title":"n","labelPadding":15,"titlePadding":1}},
  "y":{"field":"v","type":"quantitative","scale":{"domain":[0,1],"nice":false},"axis":{"values":[0,0.5,1],"format":"~g","title":null,"labelPadding":17}},
  "color":{"field":"m","type":"nominal","scale":{"domain":["ground truth","averaging","convolution"],"range":["#c0181e","#7fee3f","#000000"]},"legend":null}}},
{"width":231,"height":164,
 "data":{"name":"ts"},"transform":[{"filter":"datum.p=='LS'"}],
 "encoding":{"x":{"field":"t","type":"quantitative","scale":{"domain":[-2,2],"nice":false},"axis":{"values":[-2,0,2],"title":"time (s)","labelExpr":"datum.value + ''","labelPadding":15,"titlePadding":1}}},
 "layer":[
  {"mark":{"type":"area","color":"#d7f9c9"},"encoding":{"y":{"field":"al","type":"quantitative","scale":{"domain":[0,1],"nice":false},"axis":{"labels":false,"ticks":false,"title":"Log","titleFontSize":27,"titlePadding":17}},"y2":{"field":"ah"}}},
  {"mark":{"type":"area","color":"#c8c8c8","opacity":0.9},"encoding":{"y":{"field":"cl","type":"quantitative"},"y2":{"field":"ch"}}},
  {"mark":{"type":"line","color":"#a3ec7f","strokeWidth":1},"encoding":{"y":{"field":"al","type":"quantitative"}}},
  {"mark":{"type":"line","color":"#a3ec7f","strokeWidth":1},"encoding":{"y":{"field":"ah","type":"quantitative"}}},
  {"mark":{"type":"line","color":"#7a7a7a","strokeWidth":1},"encoding":{"y":{"field":"cl","type":"quantitative"}}},
  {"mark":{"type":"line","color":"#7a7a7a","strokeWidth":1},"encoding":{"y":{"field":"ch","type":"quantitative"}}},
  {"mark":{"type":"line","color":"#cf1f1f","strokeWidth":2.6},"encoding":{"y":{"field":"r","type":"quantitative"}}}
 ]},
{"width":231,"height":164,
 "data":{"name":"ts"},"transform":[{"filter":"datum.p=='LD'"}],
 "encoding":{"x":{"field":"t","type":"quantitative","scale":{"domain":[-2,2],"nice":false},"axis":{"values":[-2,0,2],"title":"time (s)","labelExpr":"datum.value + ''","labelPadding":15,"titlePadding":1}}},
 "layer":[
  {"mark":{"type":"area","color":"#d7f9c9"},"encoding":{"y":{"field":"al","type":"quantitative","scale":{"domain":[0,1],"nice":false},"axis":null},"y2":{"field":"ah"}}},
  {"mark":{"type":"area","color":"#c8c8c8","opacity":0.9},"encoding":{"y":{"field":"cl","type":"quantitative","axis":null},"y2":{"field":"ch"}}},
  {"mark":{"type":"line","color":"#a3ec7f","strokeWidth":1},"encoding":{"y":{"field":"al","type":"quantitative","axis":null}}},
  {"mark":{"type":"line","color":"#a3ec7f","strokeWidth":1},"encoding":{"y":{"field":"ah","type":"quantitative","axis":null}}},
  {"mark":{"type":"line","color":"#7a7a7a","strokeWidth":1},"encoding":{"y":{"field":"cl","type":"quantitative","axis":null}}},
  {"mark":{"type":"line","color":"#7a7a7a","strokeWidth":1},"encoding":{"y":{"field":"ch","type":"quantitative","axis":null}}},
  {"mark":{"type":"line","color":"#cf1f1f","strokeWidth":2.6},"encoding":{"y":{"field":"r","type":"quantitative","axis":null}}}
 ]},
{"width":231,"height":164,
 "data":{"name":"r2"},"transform":[{"filter":"datum.k=='L' && datum.s=='ERS'"}],
 "mark":{"type":"point","filled":true,"size":150,"opacity":1},
 "encoding":{
  "x":{"field":"n","type":"quantitative","scale":{"domain":[0,6],"nice":false},"axis":{"values":[0,2,4,6],"title":"n","labelPadding":19,"titlePadding":1}},
  "y":{"field":"v","type":"quantitative","scale":{"domain":[0.5,1],"nice":false,"zero":false},"axis":{"values":[0.5,1],"format":"~g","title":"r²","titleFontSize":24,"labelPadding":11,"titlePadding":-10}},
  "color":{"field":"m","type":"nominal","scale":{"domain":["ground truth","averaging","convolution"],"range":["#c0181e","#7fee3f","#000000"]},"legend":null}}},
{"width":231,"height":164,
 "data":{"name":"r2"},"transform":[{"filter":"datum.k=='L' && datum.s=='ERD'"}],
 "mark":{"type":"point","filled":true,"size":150,"opacity":1},
 "encoding":{
  "x":{"field":"n","type":"quantitative","scale":{"domain":[0,6],"nice":false},"axis":{"values":[0,2,4,6],"title":"n","labelPadding":19,"titlePadding":1}},
  "y":{"field":"v","type":"quantitative","scale":{"domain":[0,1],"nice":false},"axis":{"values":[0,0.5,1],"format":"~g","title":null,"labelPadding":17}},
  "color":{"field":"m","type":"nominal","scale":{"domain":["ground truth","averaging","convolution"],"range":["#c0181e","#7fee3f","#000000"]},"legend":null}}}
]
}
